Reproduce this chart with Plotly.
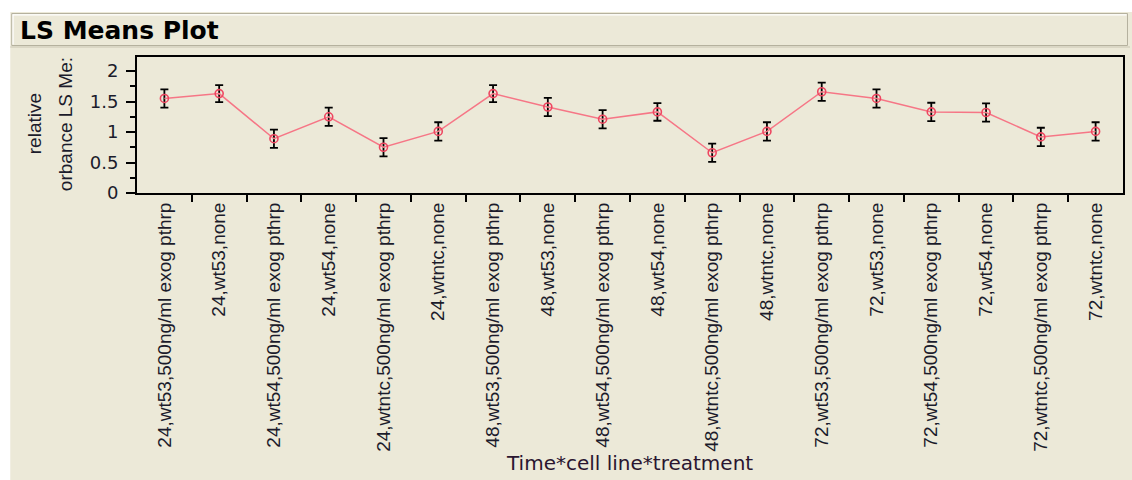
import plotly.graph_objects as go

# LS means of relative absorbance for each Time*cell line*treatment level
categories = [
    "24,wt53,500ng/ml exog pthrp", "24,wt53,none",
    "24,wt54,500ng/ml exog pthrp", "24,wt54,none",
    "24,wtntc,500ng/ml exog pthrp", "24,wtntc,none",
    "48,wt53,500ng/ml exog pthrp", "48,wt53,none",
    "48,wt54,500ng/ml exog pthrp", "48,wt54,none",
    "48,wtntc,500ng/ml exog pthrp", "48,wtntc,none",
    "72,wt53,500ng/ml exog pthrp", "72,wt53,none",
    "72,wt54,500ng/ml exog pthrp", "72,wt54,none",
    "72,wtntc,500ng/ml exog pthrp", "72,wtntc,none",
]
ls_means = [1.55, 1.63, 0.89, 1.25, 0.75, 1.01,
            1.63, 1.41, 1.21, 1.33, 0.66, 1.01,
            1.66, 1.55, 1.33, 1.32, 0.92, 1.01]
std_err = [0.15, 0.14, 0.15, 0.15, 0.15, 0.15,
           0.14, 0.15, 0.15, 0.145, 0.15, 0.15,
           0.15, 0.15, 0.15, 0.15, 0.15, 0.15]
y_ticks = [0, 0.5, 1, 1.5, 2]
y_tick_text = ["0", "0.5", "1", "1.5", "2"]

W, H = 1132, 480
L, R, T, B = 137, 1125, 57, 193  # plot area in pixels


def px(x):
    return (x - L) / (R - L)


def py(y):
    return (B - y) / (B - T)


n = len(categories)
boundaries = [i + 0.5 for i in range(n - 1)]

BEIGE = "#ECE9D8"
TEXT = "#1b1b2b"

fig = go.Figure()
fig.add_trace(go.Scatter(
    x=categories, y=ls_means,
    mode="lines+markers",
    line=dict(color="rgb(246,118,134)", width=1.5),
    marker=dict(symbol="circle-open", size=8, color="rgb(238,70,96)",
                line=dict(width=1.6, color="rgb(238,70,96)")),
    error_y=dict(type="data", array=std_err, visible=True,
                 color="black", thickness=1.8, width=4),
    showlegend=False, cliponaxis=False,
))
# helper axis carrying the tick marks between categories
fig.add_trace(go.Scatter(
    x=boundaries, y=[None] * len(boundaries), xaxis="x2",
    mode="markers", marker=dict(opacity=0), hoverinfo="skip",
    showlegend=False,
))

fig.update_layout(
    width=W, height=H,
    margin=dict(l=L, r=W - R, t=T, b=H - B),
    paper_bgcolor="white", plot_bgcolor="white",
    font=dict(family="Liberation Sans, Arial, sans-serif", color=TEXT),
    xaxis=dict(
        type="category", range=[-0.5, n - 0.5],
        showgrid=False, zeroline=False,
        showline=True, linecolor="black", linewidth=2, mirror=True,
        ticks="", tickangle=-90,
        tickfont=dict(family="Liberation Sans, Arial, sans-serif", size=19, color=TEXT),
    ),
    xaxis2=dict(
        overlaying="x", anchor="y", side="bottom",
        range=[-0.5, n - 0.5],
        tickmode="array", tickvals=boundaries,
        ticks="outside", ticklen=8, tickwidth=2, tickcolor="black",
        showticklabels=False, showgrid=False, zeroline=False, showline=False,
    ),
    yaxis=dict(
        range=[0, 2.23],
        tickmode="array", tickvals=y_ticks, ticktext=y_tick_text,
        ticks="outside", ticklen=9, tickwidth=1.5, tickcolor="black",
        minor=dict(dtick=0.25, ticks="outside", ticklen=5, tickwidth=1.5,
                   tickcolor="black", showgrid=False),
        showgrid=False, zeroline=False,
        showline=True, linecolor="black", linewidth=2, mirror=True,
        ticklabelstandoff=4,
        tickfont=dict(family="DejaVu Sans, sans-serif", size=18, color=TEXT),
    ),
)

# report panel background, title bar and frame
fig.add_shape(type="rect", xref="paper", yref="paper",
              x0=px(10), x1=px(W + 2), y0=py(12), y1=py(H + 2),
              fillcolor=BEIGE, line=dict(width=0), layer="below")
fig.add_shape(type="rect", xref="paper", yref="paper",
              x0=px(11.5), x1=px(1129.5), y0=py(13.5), y1=py(45.5),
              fillcolor=BEIGE, line=dict(color="#B5B19E", width=1), layer="below")
fig.add_shape(type="line", xref="paper", yref="paper",
              x0=px(12.5), x1=px(1128.5), y0=py(14.8), y1=py(14.8),
              line=dict(color="white", width=1.2), layer="below")
fig.add_shape(type="line", xref="paper", yref="paper",
              x0=px(12.8), x1=px(12.8), y0=py(14.5), y1=py(44.5),
              line=dict(color="white", width=1.2), layer="below")
fig.add_shape(type="line", xref="paper", yref="paper",
              x0=px(10), x1=px(W), y0=py(47), y1=py(47),
              line=dict(color="#C9C5B2", width=1), layer="below")

# panel title
fig.add_annotation(text="<b>LS Means Plot</b>", xref="paper", yref="paper",
                   x=px(18), y=py(30), xanchor="left", yanchor="middle",
                   showarrow=False,
                   font=dict(family="DejaVu Sans, sans-serif", size=25, color="black"))

# y-axis title, truncated over two lines
fig.add_annotation(text="relative", xref="paper", yref="paper",
                   x=px(34), y=py(124), xanchor="center", yanchor="middle",
                   textangle=-90, showarrow=False,
                   font=dict(family="Liberation Sans, Arial, sans-serif", size=19, color=TEXT))
fig.add_annotation(text="orbance LS Me:", xref="paper", yref="paper",
                   x=px(65), y=py(124), xanchor="center", yanchor="middle",
                   textangle=-90, showarrow=False,
                   font=dict(family="Liberation Sans, Arial, sans-serif", size=19, color=TEXT))

# x-axis title
fig.add_annotation(text="Time*cell line*treatment", xref="paper", yref="paper",
                   x=px(630), y=py(463), xanchor="center", yanchor="middle",
                   showarrow=False,
                   font=dict(family="DejaVu Sans, sans-serif", size=20, color="#2a1530"))

fig.write_html("out.html")
